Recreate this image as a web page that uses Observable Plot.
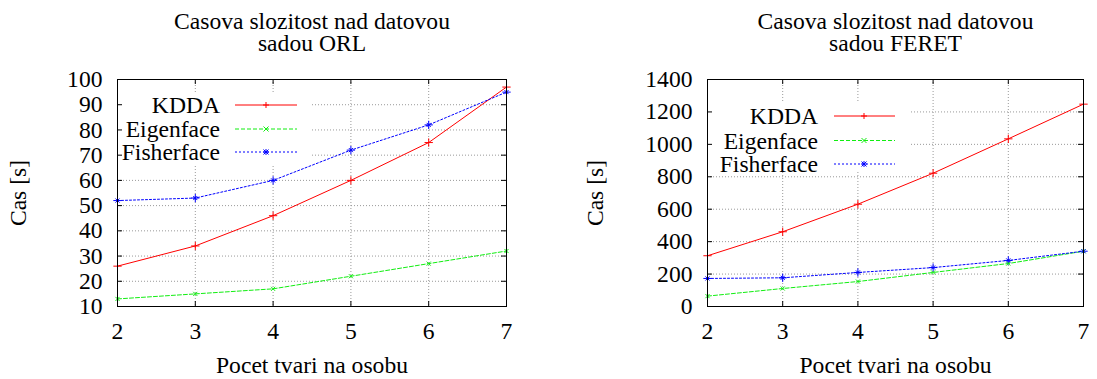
<!DOCTYPE html>
<html><head><meta charset="utf-8">
<script src="https://cdn.jsdelivr.net/npm/d3@7"></script>
<script src="https://cdn.jsdelivr.net/npm/@observablehq/plot@0.6"></script>
<style>
body{margin:0;background:#fff;}
#wrap{display:flex;width:1097px;height:379px;overflow:hidden;}
#wrap svg, #wrap svg text{font-family:'Liberation Serif','Times New Roman',serif !important;}
</style>
</head><body><div id="wrap"></div>
<script>
// ---- data ----
const counts = [2, 3, 4, 5, 6, 7];
const xTicks = [2, 3, 4, 5, 6, 7];
const seriesNames = ["KDDA", "Eigenface", "Fisherface"];

const orlKDDA = [26, 34, 46, 60, 75, 97];
const orlEigen = [13, 15, 17, 22, 27, 32];
const orlFisher = [52, 53, 60, 72, 82, 95];
const orlYTicks = [10, 20, 30, 40, 50, 60, 70, 80, 90, 100];

const feretKDDA = [313, 461, 631, 822, 1034, 1248];
const feretEigen = [64, 111, 154, 210, 265, 341];
const feretFisher = [173, 177, 210, 240, 284, 341];
const feretYTicks = [0, 200, 400, 600, 800, 1000, 1200, 1400];

const titleORL = "Casova slozitost nad datovou\nsadou ORL";
const titleFERET = "Casova slozitost nad datovou\nsadou FERET";
const xLabel = "Pocet tvari na osobu";
const yLabel = "Cas [s]";

// ---- styles ----
const colors = {KDDA: "#ff0000", Eigenface: "#11ee11", Fisherface: "#0000ff"};
const dashes = {KDDA: null, Eigenface: "4,2", Fisherface: "2,2"};
const FONT = "'Liberation Serif', 'Times New Roman', serif";
const FS = 23.6;
const H = 379, MT = 79, MB = 73, TICK = 5;

function table(k, e, f) {
  const rows = [];
  counts.forEach((c, i) => {
    rows.push({x: c, y: k[i], s: "KDDA"});
    rows.push({x: c, y: e[i], s: "Eigenface"});
    rows.push({x: c, y: f[i], s: "Fisherface"});
  });
  return rows;
}

function makeChart(o) {
  const data = table(o.k, o.e, o.f);
  const plotW = o.width - o.marginLeft - o.marginRight;
  const plotH = H - MT - MB;
  const grid = {stroke: "#999", strokeDasharray: "1,2", strokeOpacity: 1, strokeWidth: 1};
  const marks = [
    Plot.ruleX(xTicks.slice(1, -1), {x: d => d, ...grid}),
    Plot.ruleY(o.yTicks.slice(1, -1), {y: d => d, ...grid})
  ];
  for (const s of seriesNames) {
    const d = data.filter(r => r.s === s);
    marks.push(Plot.line(d, {x: "x", y: "y", stroke: colors[s], strokeWidth: 1, strokeDasharray: dashes[s]}));
  }
  const plusPts = data.filter(r => r.s !== "Eigenface");
  const timesPts = data.filter(r => r.s !== "KDDA");
  marks.push(Plot.dot(plusPts, {x: "x", y: "y", symbol: "plus", r: 2.8, stroke: d => colors[d.s], strokeWidth: 1}));
  marks.push(Plot.dot(timesPts, {x: "x", y: "y", symbol: "times", r: 2.0, stroke: d => colors[d.s], strokeWidth: 1}));
  marks.push(Plot.frame({stroke: "black", strokeWidth: 1}));
  marks.push(Plot.tickY(o.yTicks, {y: d => d, insetRight: plotW - TICK, stroke: "black"}));
  marks.push(Plot.tickY(o.yTicks, {y: d => d, insetLeft: plotW - TICK, stroke: "black"}));
  marks.push(Plot.tickX(xTicks, {x: d => d, insetTop: plotH - TICK, stroke: "black"}));
  marks.push(Plot.tickX(xTicks, {x: d => d, insetBottom: plotH - TICK, stroke: "black"}));
  marks.push(Plot.text([o.title], {frameAnchor: "top", lineAnchor: "top", dy: -67, lineHeight: 0.96, fill: "black"}));
  marks.push(Plot.text([xLabel], {frameAnchor: "bottom", lineAnchor: "bottom", dy: 66, fill: "black"}));
  marks.push(Plot.text([yLabel], {frameAnchor: "left", textAnchor: "middle", lineAnchor: "bottom", rotate: -90, dx: o.yLabelDx, fill: "black"}));

  const svg = Plot.plot({
    width: o.width, height: H,
    marginLeft: o.marginLeft, marginRight: o.marginRight, marginTop: MT, marginBottom: MB,
    style: {fontFamily: FONT, fontSize: FS + "px", background: "white", color: "black", overflow: "visible"},
    x: {domain: [2, 7], ticks: xTicks, tickFormat: d => String(d), tickSize: 0, tickPadding: 15.5, label: null},
    y: {domain: o.yDomain, ticks: o.yTicks, tickFormat: d => String(d), tickSize: 0, tickPadding: 15, label: null},
    marks
  });

  const sel = d3.select(svg);
  sel.selectAll("g, text").attr("font-family", FONT).attr("font-variant", null);
  sel.selectAll("text").attr("font-size", FS);

  // legend (key box with white background, like gnuplot)
  const L = o.legend;
  const x0 = o.marginLeft, y0 = MT;
  const rules = svg.querySelectorAll('g[aria-label="rule"]');
  const box = document.createElementNS("http://www.w3.org/2000/svg", "rect");
  box.setAttribute("x", x0 + 1);
  box.setAttribute("y", y0 + L.boxTop);
  box.setAttribute("width", L.boxRight - 1);
  box.setAttribute("height", L.boxBottom - L.boxTop);
  box.setAttribute("fill", "white");
  rules[rules.length - 1].after(box);

  const lg = sel.append("g").attr("font-family", FONT).attr("font-size", FS);
  seriesNames.forEach((s, i) => {
    const yy = y0 + L.rows[i];
    lg.append("text").attr("x", x0 + L.textRight).attr("y", yy + 8)
      .attr("text-anchor", "end").attr("fill", "black").text(s);
    lg.append("line").attr("x1", x0 + L.lineX1).attr("x2", x0 + L.lineX2)
      .attr("y1", yy).attr("y2", yy).attr("stroke", colors[s]).attr("stroke-width", 1)
      .attr("stroke-dasharray", dashes[s]);
    const mx = x0 + L.markerX;
    let p = "";
    if (s !== "Eigenface") p += `M${mx - 3},${yy}H${mx + 3}M${mx},${yy - 3}V${yy + 3}`;
    if (s !== "KDDA") p += `M${mx - 2.5},${yy - 2.5}L${mx + 2.5},${yy + 2.5}M${mx - 2.5},${yy + 2.5}L${mx + 2.5},${yy - 2.5}`;
    lg.append("path").attr("d", p).attr("stroke", colors[s]).attr("fill", "none").attr("stroke-width", 1);
  });
  return svg;
}

const wrap = document.getElementById("wrap");
wrap.appendChild(makeChart({
  width: 548, marginLeft: 117, marginRight: 42,
  yDomain: [10, 100], yTicks: orlYTicks,
  k: orlKDDA, e: orlEigen, f: orlFisher,
  title: titleORL, yLabelDx: -91.5,
  legend: {textRight: 103, lineX1: 118, lineX2: 180, markerX: 149, rows: [26, 50, 73], boxTop: 13, boxBottom: 86, boxRight: 194}
}));
wrap.appendChild(makeChart({
  width: 549, marginLeft: 159, marginRight: 14,
  yDomain: [0, 1400], yTicks: feretYTicks,
  k: feretKDDA, e: feretEigen, f: feretFisher,
  title: titleFERET, yLabelDx: -105,
  legend: {textRight: 111, lineX1: 127, lineX2: 188, markerX: 157, rows: [37, 61.5, 85], boxTop: 24, boxBottom: 92, boxRight: 202}
}));
</script>
</body></html>
